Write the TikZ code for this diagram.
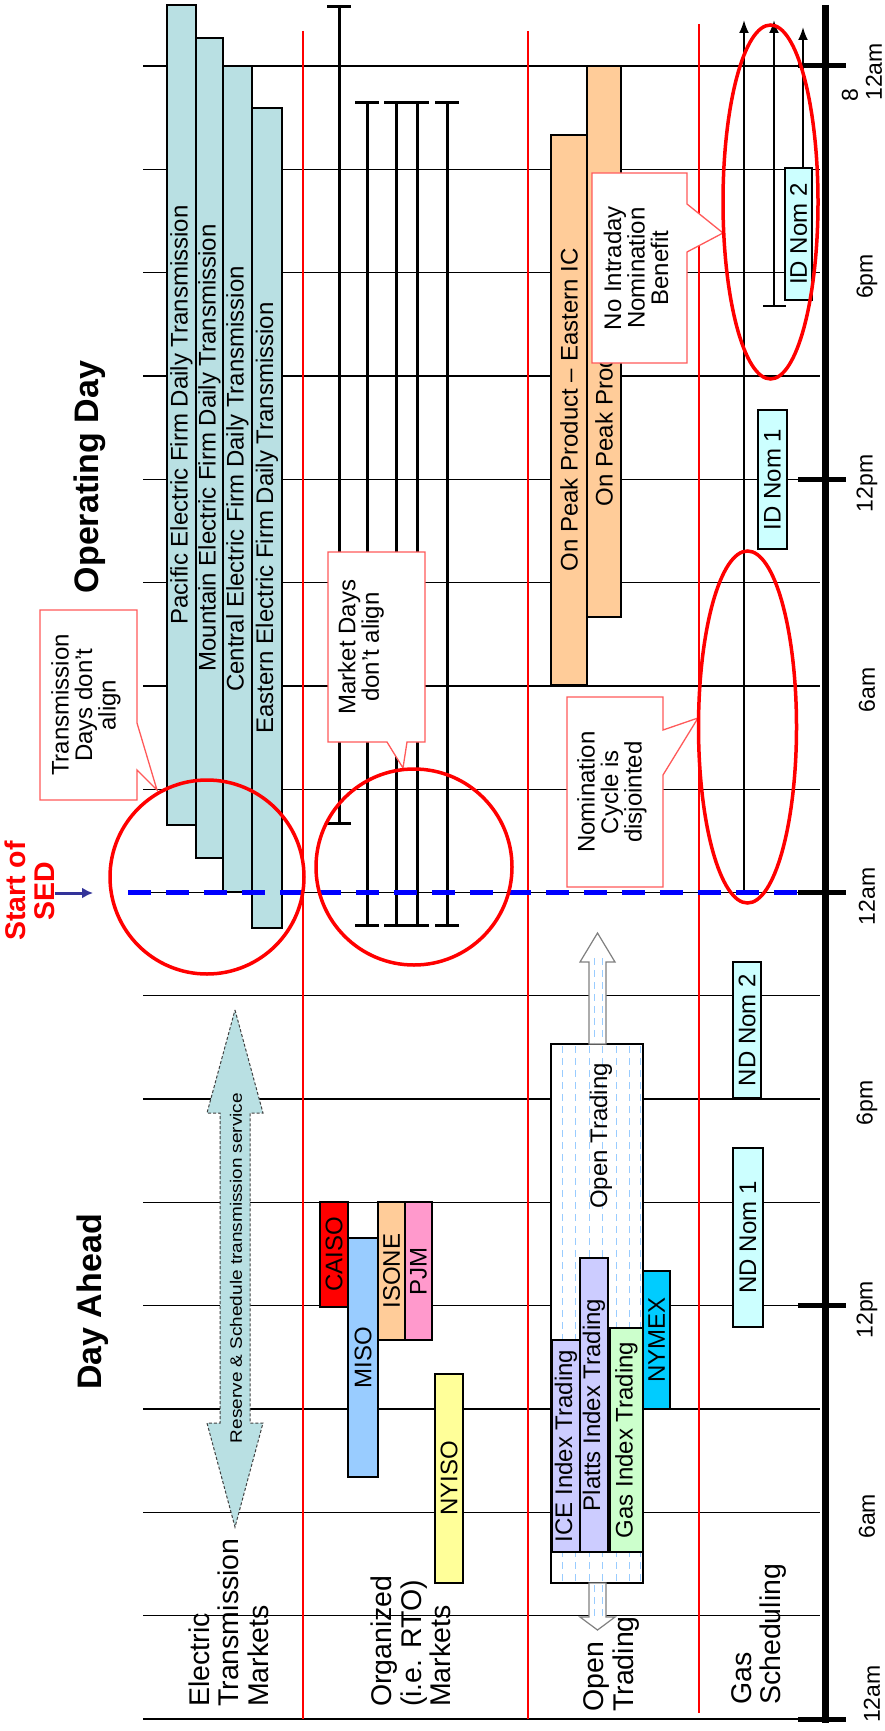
\documentclass[tikz,border=0pt]{standalone}
\usepackage{fontspec}
\setmainfont{Liberation Sans}
\newfontfamily\widefont[FakeStretch=1.15]{Liberation Sans}
\usetikzlibrary{arrows.meta}

\definecolor{tblue}{HTML}{B9E0E3}
\definecolor{peach}{HTML}{FFCC99}
\definecolor{misoblue}{HTML}{99CCFF}
\definecolor{pjmpink}{HTML}{FF99CC}
\definecolor{nyyellow}{HTML}{FFFF99}
\definecolor{lavender}{HTML}{CCCCFF}
\definecolor{mint}{HTML}{CCFFCC}
\definecolor{nymexblue}{HTML}{00CCFF}
\definecolor{nomcyan}{HTML}{CCFFFF}
\definecolor{sedblue}{HTML}{333399}
\definecolor{dashblue}{HTML}{0000FF}
\definecolor{calloutred}{HTML}{FF5A5A}

\newcommand{\barfont}{\fontsize{24}{26}\selectfont}
\newcommand{\rowfont}{\fontsize{28.5}{29.5}\selectfont}
\newcommand{\notefont}{\fontsize{24}{23.5}\selectfont}
\newcommand{\timefont}{\fontsize{23}{25}\selectfont}
\newcommand{\headfont}{\fontsize{34}{36}\selectfont\bfseries}

\tikzset{
	gridline/.style={black, line width=1.3pt},
	sepline/.style={red, line width=1.5pt},
	bar/.style={draw=black, line width=1.4pt, rotate=90, inner sep=0pt, font=\barfont},
	mkt/.style={black, line width=3pt, {Bar[width=24pt]}-{Bar[width=24pt]}},
	gasline/.style={black, line width=2pt, -{Latex[length=13pt,width=10pt]}},
	callout/.style={draw=calloutred, fill=white, line width=1.3pt},
	ring/.style={red, line width=3.5pt},
	notetext/.style={rotate=90, align=center, inner sep=0pt, font=\notefont},
	rowlabel/.style={rotate=90, align=left, anchor=west, inner sep=0pt, font=\rowfont},
	timelabel/.style={rotate=90, inner sep=0pt, font=\timefont},
	axistick/.style={black, line width=5pt},
	otdash/.style={misoblue, line width=1pt, dash pattern=on 7pt off 5pt}
}

\begin{document}
\begin{tikzpicture}[x=1pt, y=-1pt]
\useasboundingbox (0,0) rectangle (884,1731);
\fill[white] (0,0) rectangle (884,1731);

% hour grid, every 3 hours
\foreach \k in {0,...,16}
	\draw[gridline] (143,{66+103.3125*\k}) -- (820,{66+103.3125*\k});

% row separators
\draw[sepline] (303,31) -- (303,1719);
\draw[sepline] (528,31) -- (528,1719);
\draw[sepline] (699,24) -- (699,1713);

% headings
\node[rotate=90, inner sep=0pt, font=\headfont] (opday) at (90,477) {Operating Day};
\node[rotate=90, inner sep=0pt, font=\headfont] (dayahead) at (93,1302) {Day Ahead};

% electric transmission
\node[bar, fill=tblue, minimum width=820pt, minimum height=29pt] (pacific) at (181.5,415) {Pacific Electric Firm Daily Transmission};
\node[bar, fill=tblue, minimum width=820pt, minimum height=27pt] (mountain) at (209.5,448) {Mountain Electric Firm Daily Transmission};
\node[bar, fill=tblue, minimum width=826pt, minimum height=29pt] (central) at (237.5,479) {Central Electric Firm Daily Transmission};
\node[bar, fill=tblue, minimum width=820pt, minimum height=30pt] (eastern) at (267,518) {Eastern Electric Firm Daily Transmission};

\filldraw[fill=tblue, draw=darkgray, line width=1pt, densely dashed] (235,1010) -- (263,1113) -- (250,1113) -- (250,1423) -- (263,1423) -- (235,1527) -- (207,1423) -- (220,1423) -- (220,1113) -- (207,1113) -- cycle;
\node[rotate=90, inner sep=0pt, font=\widefont\fontsize{16.5}{18}\selectfont] (reserve) at (236,1268) {Reserve \& Schedule transmission service};

% organized markets
\draw[mkt] (339,5) -- (339,825);
\foreach \x in {367,396,417,447}
	\draw[mkt] (\x,101) -- (\x,927);

\node[bar, fill=red, minimum width=105pt, minimum height=28pt] (caiso) at (334,1254.5) {CAISO};
\node[bar, fill=misoblue, minimum width=239pt, minimum height=30pt] (miso) at (363,1357.5) {MISO};
\node[bar, fill=peach, minimum width=138pt, minimum height=27pt] (isone) at (391.5,1271) {ISONE};
\node[bar, fill=pjmpink, minimum width=138pt, minimum height=27pt] (pjm) at (418.5,1271) {PJM};
\node[bar, fill=nyyellow, minimum width=209pt, minimum height=28pt] (nyiso) at (449,1478.5) {NYISO};

% open trading
\node[bar, fill=peach, minimum width=550pt, minimum height=36pt] (onpeakE) at (569,410) {On Peak Product -- Eastern IC};
\node[bar, fill=peach, minimum width=551pt, minimum height=34pt] (onpeakW) at (604,341.5) {On Peak Product -- Western IC};

\fill[white] (551,1044) rectangle (643,1583);
\foreach \x in {562,575.5,589,602.5,616,629.5,640}
	\draw[otdash] (\x,1046) -- (\x,1581);
\draw[line width=1.4pt] (551,1044) rectangle (643,1583);
\node[rotate=90, inner sep=0pt, font=\barfont] (opentrade) at (601,1136) {Open Trading};

\filldraw[fill=white, draw=gray, line width=1.2pt] (597.5,933) -- (615,962) -- (606,962) -- (606,1044) -- (589,1044) -- (589,962) -- (580,962) -- cycle;
\filldraw[fill=white, draw=gray, line width=1.2pt] (589,1583) -- (606,1583) -- (606,1617) -- (615,1617) -- (597.5,1630) -- (580,1617) -- (589,1617) -- cycle;
\draw[otdash] (594,958) -- (594,1042);
\draw[otdash] (602,958) -- (602,1042);
\draw[otdash] (594,1585) -- (594,1620);
\draw[otdash] (602,1585) -- (602,1620);

\node[bar, fill=lavender, minimum width=212pt, minimum height=28pt] (ice) at (566,1446) {ICE Index Trading};
\node[bar, fill=lavender, minimum width=294pt, minimum height=28pt] (platts) at (594,1405) {Platts Index Trading};
\node[bar, fill=mint, minimum width=224pt, minimum height=33pt] (gasidx) at (626.5,1440) {Gas Index Trading};
\node[bar, fill=nymexblue, minimum width=138pt, minimum height=27pt] (nymex) at (656.5,1340) {NYMEX};

% gas scheduling
\node[bar, fill=nomcyan, minimum width=136pt, minimum height=28pt] (ndnom2) at (747,1030) {ND Nom 2};
\node[bar, fill=nomcyan, minimum width=179pt, minimum height=30pt] (ndnom1) at (748,1237.5) {ND Nom 1};
\node[bar, fill=nomcyan, minimum width=139pt, minimum height=29pt] (idnom1) at (772.5,479.5) {ID Nom 1};
\node[bar, fill=nomcyan, minimum width=132pt, minimum height=27pt] (idnom2) at (798.5,234) {ID Nom 2};

\coordinate (g1top) at (744,20);
\coordinate (g1bot) at (744,892);
\coordinate (g2top) at (774,20);
\coordinate (g2bot) at (774,307);
\coordinate (g3top) at (803,27);
\draw[gasline] (g1bot) -- (g1top);
\draw[gasline, {Bar[width=23pt]}-{Latex[length=13pt,width=10pt]}] (g2bot) -- (g2top);
\draw[gasline] (idnom2.east -| g3top) -- (g3top);

% row labels
\node[rowlabel] (elecrow) at (228.5,1707) {Electric\\Transmission\\Markets};
\node[rowlabel] (rtorow) at (411,1707) {Organized\\(i.e. RTO)\\Markets};
\node[rowlabel] (otrow) at (611.5,1712) {Open\\Trading};
\node[rowlabel] (gasrow) at (759,1705) {Gas\\Scheduling};

% time axis
\draw[black, line width=7pt] (825,5) -- (825,1723);
\foreach \k in {0,4,8,12,16}
	\draw[axistick] (798,{66+103.3125*\k}) -- (846,{66+103.3125*\k});
\foreach \k/\t in {2/6pm,4/12pm,6/6am,8/12am,10/6pm,12/12pm,14/6am}
	\node[timelabel] at (867,{70+103.3125*\k}) {\t};
\node[timelabel] (toplabel) at (874,72) {12am};
\node[timelabel] (eight) at (850,95) {8};
\node[timelabel] (botlabel) at (872,1694) {12am};

% start of SED
\draw[dashblue, line width=5pt, dash pattern=on 23pt off 15pt] (128,892) -- (800,892);
\node[rotate=90, align=center, inner sep=0pt, text=red, font=\fontsize{28.5}{29}\selectfont\bfseries] (sed) at (29.5,891) {Start of\\SED};
\coordinate (sedtip) at (93,893);
\draw[sedblue, line width=3pt, -{Latex[length=11pt,width=11pt]}] (sed.south |- sedtip) -- (sedtip);

% callouts
\draw[callout] (40,610) -- (137,610) -- (137,723) -- (157,790) -- (137,770) -- (137,800) -- (40,800) -- cycle;
\node[notetext] (txcall) at (86,705) {Transmission\\Days don't\\align};

\draw[callout] (328,552) -- (425,552) -- (425,742) -- (407,742) -- (403,768) -- (387,742) -- (328,742) -- cycle;
\node[notetext] (mkcall) at (361,647) {Market Days\\don't align};

\draw[callout] (592,173) -- (687,173) -- (687,204) -- (723,233) -- (687,252) -- (687,363) -- (592,363) -- cycle;
\node[notetext] (nocall) at (636,268) {No Intraday\\Nomination\\Benefit};

\draw[callout] (567,697) -- (663,697) -- (663,730) -- (698,718) -- (663,775) -- (663,887) -- (567,887) -- cycle;
\node[notetext] (nomcall) at (612,792) {Nomination\\Cycle is\\disjointed};

% problem areas
\draw[ring] (207,877) circle[radius=97];
\draw[ring] (414,867) circle[radius=98];
\draw[ring] (747.5,727) ellipse[x radius=49, y radius=176];
\draw[ring] (770.5,202) ellipse[x radius=47.5, y radius=177];

\end{tikzpicture}
\end{document}
